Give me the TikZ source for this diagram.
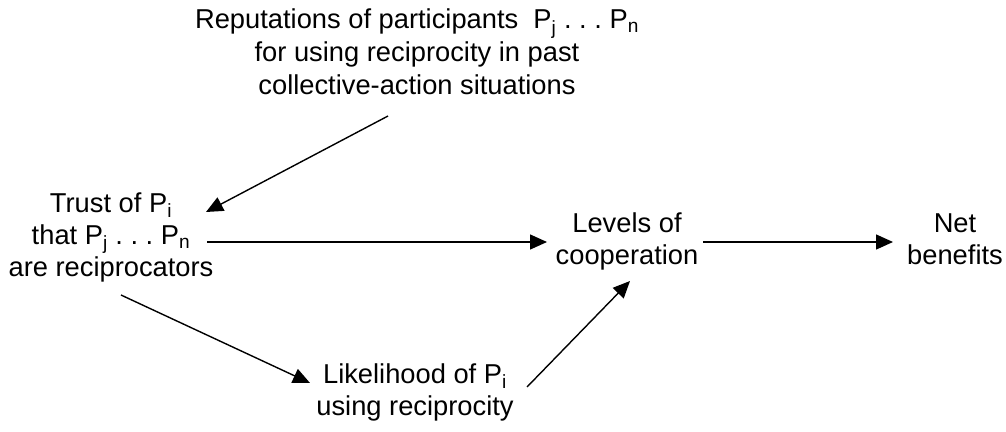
\documentclass[tikz,border=0pt]{standalone}
\usepackage{fontspec}
\setmainfont{Liberation Sans}
\usetikzlibrary{arrows.meta,calc}
\newcommand{\psub}[1]{\textsubscript{#1}}
\begin{document}
\begin{tikzpicture}[x=1pt,y=-1pt,
  lbl/.style={align=center,inner sep=0pt,font=\fontsize{27.3}{32}\selectfont},
  conn/.style={line width=1.4pt,-{Triangle[length=17pt,width=15pt]}}]
\useasboundingbox (0,0) rectangle (1006,431);
\node[lbl,font=\fontsize{27.3}{33}\selectfont] (rep) at (417,52) {Reputations of participants\ \ P\psub{j} .\ .\ .\ P\psub{n}\\for using reciprocity in past\\collective-action situations};
\node[lbl] (trust) at (111,237.4) {Trust of P\psub{i}\\that P\psub{j} .\ .\ .\ P\psub{n}\\are reciprocators};
\node[lbl] (lev) at (627,241.9) {Levels of\\cooperation};
\node[lbl] (net) at (955,239.3) {Net\\benefits};
\node[lbl] (like) at (415,392.4) {Likelihood of P\psub{i}\\using reciprocity};
\draw[conn] ($(rep)+(-29,64)$) -- ($(trust)+(95,-25.4)$);
\draw[conn] ($(trust)+(96,4.6)$) -- ($(lev)+(-80,0.1)$);
\draw[conn] ($(lev)+(76,0.1)$) -- ($(net)+(-62,2.7)$);
\draw[conn] ($(trust)+(10,57.6)$) -- ($(like)+(-105,-9.4)$);
\draw[conn] ($(like)+(112,-5.4)$) -- ($(lev)+(3,39.1)$);
\end{tikzpicture}
\end{document}
